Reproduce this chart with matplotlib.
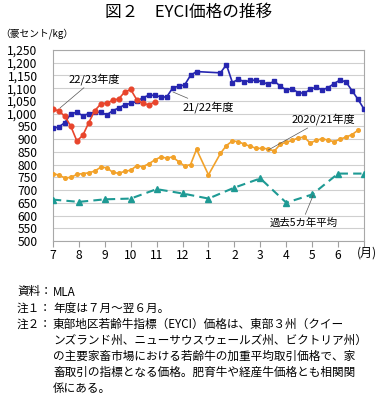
""" EYCI price trend (図２) """

import matplotlib
matplotlib.use('Agg')
import matplotlib.pyplot as plt
import matplotlib.transforms as mtransforms
import numpy as np

plt.rcParams['font.family'] = ['Noto Sans CJK JP', 'DejaVu Sans']

# weeks counted from the start of July
weeks_2122 = list(range(0, 25)) + list(range(28, 53))
eyci_2122 = [942, 948, 965, 1000, 1005, 992, 1000, 1005, 1006, 995,
             1012, 1022, 1035, 1040, 1048, 1062, 1072, 1072, 1066, 1065,
             1100, 1108, 1112, 1150, 1165,
             1160, 1192, 1122, 1135, 1125, 1130, 1132, 1124, 1115, 1128,
             1108, 1093, 1098, 1082, 1080, 1095, 1104, 1093, 1102, 1118,
             1132, 1124, 1090, 1056, 1018]

weeks_2223 = list(range(0, 18))
eyci_2223 = [1018, 1010, 990, 950, 893, 915, 965, 1012, 1038, 1042,
             1052, 1058, 1085, 1095, 1055, 1040, 1035, 1045]

weeks_2021 = list(range(0, 25)) + [26] + list(range(28, 52))
eyci_2021 = [765, 759, 748, 750, 762, 765, 768, 775, 790, 788,
             770, 766, 774, 778, 796, 792, 803, 818, 830, 826,
             830, 812, 795, 800, 860,
             760,
             844, 875, 893, 890, 880, 872, 864, 864, 862, 853,
             880, 888, 895, 905, 908, 885, 895, 902, 896, 890,
             900, 908, 918, 935]

months_avg = list(range(0, 13))
avg_5yr = [663, 654, 664, 667, 704, 687, 667, 710, 746, 651, 683, 765, 765]

month_labels = ['7', '8', '9', '10', '11', '12', '1', '2', '3', '4', '5', '6']

notes = [
    ('資料：', ['MLA']),
    ('注１：', ['年度は７月～翌６月。']),
    ('注２：', ['東部地区若齢牛指標（EYCI）価格は、東部３州（クイー',
              'ンズランド州、ニューサウスウェールズ州、ビクトリア州）',
              'の主要家畜市場における若齢牛の加重平均取引価格で、家',
              '畜取引の指標となる価格。肥育牛や経産牛価格とも相関関',
              '係にある。']),
]


def to_months(weeks):
    return np.array(weeks) * 12 / 52


def draw_chart():
    fig = plt.figure(figsize=(3.78, 3.96), dpi=100)
    ax = fig.add_axes([0.140, 0.391, 0.823, 0.483])

    ax.plot(months_avg, avg_5yr, color='#1e9a94', lw=1.5, ls=(0, (4, 2.5)),
            marker='^', ms=4, zorder=3)
    ax.plot(to_months(weeks_2021), eyci_2021, color='#f2a22a', lw=1.2,
            marker='o', ms=2.6, zorder=3)
    ax.plot(to_months(weeks_2122), eyci_2122, color='#2626b0', lw=1.2,
            marker='s', ms=3, zorder=4)
    ax.plot(to_months(weeks_2223), eyci_2223, color='#e8452c', lw=1.2,
            marker='o', ms=3.4, zorder=5)

    ax.set_xlim(0, 12)
    ax.set_ylim(500, 1250)
    ax.set_yticks(range(500, 1251, 50))
    ax.set_yticklabels([f'{v:,}' for v in range(500, 1251, 50)])
    ax.set_xticks(range(0, 13))
    ax.set_xticklabels(month_labels + [''])
    ax.tick_params(axis='y', length=0, pad=11, labelsize=8.7)
    ax.tick_params(axis='x', length=4, width=0.8, color='#a0a0a0',
                   pad=2, labelsize=8.7)
    ax.grid(axis='y', color='#cfcfcf', lw=0.8)
    ax.set_axisbelow(True)
    for side in ['left', 'right', 'bottom', 'top']:
        ax.spines[side].set_color('#a8a8a8')
        ax.spines[side].set_linewidth(0.8)

    trans = mtransforms.blended_transform_factory(ax.transData, ax.transAxes)
    ax.text(12.1, -0.028, '(月)', transform=trans, ha='center', va='top',
            fontsize=8.7)

    line = dict(arrowstyle='-', color='#555555', lw=0.5, shrinkA=0, shrinkB=0)
    ax.annotate('22/23年度', xy=(0.27, 1022), xytext=(0.6, 1136),
                ha='left', va='center', fontsize=8, arrowprops=line)
    ax.annotate('21/22年度', xy=(4.63, 1085), xytext=(5.0, 1026),
                ha='left', va='center', fontsize=8, arrowprops=line)
    ax.annotate('2020/21年度', xy=(8.3, 857), xytext=(9.2, 978),
                ha='left', va='center', fontsize=8, arrowprops=line)
    ax.annotate('過去5カ年平均', xy=(10.04, 680), xytext=(8.38, 574),
                ha='left', va='center', fontsize=7.5,
                arrowprops=dict(line, relpos=(0.5, 1.0)))

    fig.text(0.5, 0.968, '図２　EYCI価格の推移', ha='center', va='center',
             fontsize=12)
    fig.text(0.0, 0.914, '（豪セント/kg）', ha='left', va='center', fontsize=7)

    row = 0
    for head, body in notes:
        fig.text(17 / 378, 1 - (292 + row * 16.1) / 396, head,
                 ha='left', va='center', fontsize=8.4)
        for text in body:
            fig.text(53 / 378, 1 - (292 + row * 16.1) / 396, text,
                     ha='left', va='center', fontsize=8.4)
            row += 1

    fig.savefig('out.png', dpi=100)


def main():
    draw_chart()


if __name__ == '__main__':
    main()
